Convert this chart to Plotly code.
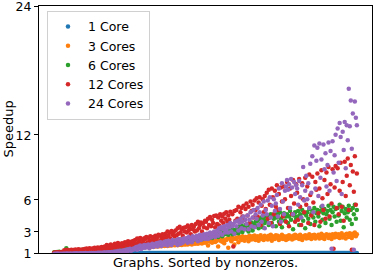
import plotly.graph_objects as go

series_names = ["1 Core", "3 Cores", "6 Cores", "12 Cores", "24 Cores"]
colors = ["#1f77b4", "#ff7f0e", "#2ca02c", "#d62728", "#9467bd"]
y_ticks = [1, 3, 6, 12, 24]
x_title = "Graphs. Sorted by nonzeros."
y_title = "Speedup"

core1 = [
    1,1,1,1,1,1,1,1,1,1, 1,1,1,1,1,1,1,1,1,1, 1,1,1,1,1,1,1,1,1,1,
    1,1,1,1,1,1,1,1,1,1, 1,1,1,1,1,1,1,1,1,1, 1,1,1,1,1,1,1,1,1,1,
    1,1,1,1,1,1,1,1,1,1, 1,1,1,1,1,1,1,1,1,1, 1,1,1,1,1,1,1,1,1,1,
    1,1,1,1,1,1,1,1,1,1, 1,1,1,1,1,1,1,1,1,1, 1,1,1,1,1,1,1,1,1,1,
    1,1,1,1,1,1,1,1,1,1, 1,1,1,1,1,1,1,1,1,1, 1,1,1,1,1,1,1,1,1,1,
    1,1,1,1,1,1,1,1,1,1, 1,1,1,1,1,1,1,1,1,1, 1,1,1,1,1,1,1,1,1,1,
    1,1,1,1,1,1,1,1,1,1, 1,1,1,1,1,1,1,1,1,1, 1,1,1,1,1,1,1,1,1,1,
    1,1,1,1,1,1,1,1,1,1, 1,1,1,1,1,1,1,1,1,1, 1,1,1,1,1,1,1,1,1,1,
    1,1,1,1,1,1,1,1,1,1, 1,1,1,1,1,1,1,1,1,1, 1,1,1,1,1,1,1,1,1,1,
    1,1,1,1,1,1,1,1,1,1, 1,1,1,1,1,1,1,1,1,1, 1,1,1,1,1,1,1,1,1,1,
]

core3 = [
    1.04,1.06,1.05,1.08,1.06,1.09,1.07,1.08,1.1,1.07,
    1.1,1.12,1.09,1.13,1.11,1.14,1.1,1.15,1.12,1.14,
    1.14,1.17,1.13,1.18,1.15,1.19,1.16,1.2,1.17,1.21,
    1.2,1.23,1.19,1.24,1.21,1.26,1.22,1.25,1.23,1.27,
    1.26,1.29,1.25,1.3,1.28,1.32,1.27,1.31,1.3,1.33,
    1.32,1.35,1.31,1.37,1.34,1.38,1.33,1.36,1.39,1.35,
    1.38,1.41,1.37,1.43,1.4,1.45,1.39,1.44,1.42,1.46,
    1.44,1.48,1.43,1.5,1.46,1.52,1.45,1.49,1.53,1.47,
    1.5,1.55,1.49,1.57,1.52,1.59,1.51,1.56,1.6,1.54,
    1.56,1.61,1.55,1.63,1.58,1.65,1.57,1.62,1.66,1.6,
    1.62,1.67,1.6,1.7,1.64,1.72,1.63,1.69,1.73,1.66,
    1.68,1.74,1.66,1.77,1.7,1.79,1.69,1.76,1.8,1.72,
    1.75,1.8,1.72,1.84,1.77,1.86,1.74,1.82,1.88,1.79,
    1.82,1.88,1.78,1.92,1.85,1.95,1.8,1.9,1.97,1.86,
    1.9,1.98,1.85,2.02,1.94,2.05,1.88,2.0,2.08,1.96,
    2.0,2.1,1.7,2.15,2.05,2.2,1.95,2.12,2.25,2.03,
    2.1,2.25,1.6,2.3,2.15,2.35,2.05,2.28,1.9,2.2,
    2.2,2.35,1.5,2.4,2.25,2.1,2.45,2.3,1.8,2.38,
    2.3,2.45,2.0,2.5,2.35,2.2,2.55,2.4,2.15,2.48,
    2.35,2.5,2.1,2.6,2.4,2.25,2.55,2.3,2.62,2.2,
    2.4,2.55,2.15,2.5,2.65,2.3,2.45,2.2,2.6,2.35,
    2.5,2.25,2.6,2.35,2.7,2.15,2.55,2.4,2.3,2.65,
    2.45,2.6,2.2,2.5,2.35,2.7,2.3,2.55,2.4,2.2,
    2.55,2.3,2.65,2.4,2.5,2.25,2.6,2.35,2.7,2.45,
    2.4,2.6,2.3,2.7,2.5,2.2,2.55,2.45,2.65,2.35,
    2.6,2.4,2.75,2.5,2.3,2.65,2.45,2.7,2.35,2.55,
    2.5,2.7,2.35,2.6,2.8,2.4,2.65,2.3,2.55,2.75,
    2.65,2.4,2.7,2.5,2.3,2.75,2.55,2.45,2.8,2.6,
    2.5,2.75,2.4,2.65,2.85,2.45,2.6,2.7,2.35,2.8,
    2.7,2.5,2.85,2.6,2.4,2.8,2.65,2.9,2.55,2.75,
]

core6 = [
    1.05,1.08,1.04,1.1,1.06,1.12,1.08,1.1,1.05,1.09,
    1.1,1.2,1.45,1.15,1.12,1.18,1.14,1.2,1.16,1.22,
    1.18,1.24,1.2,1.26,1.22,1.28,1.2,1.25,1.3,1.23,
    1.26,1.3,1.24,1.33,1.28,1.35,1.3,1.32,1.27,1.36,
    1.32,1.38,1.3,1.4,1.35,1.42,1.34,1.4,1.37,1.45,
    1.4,1.46,1.38,1.5,1.43,1.52,1.45,1.48,1.42,1.55,
    1.5,1.56,1.47,1.6,1.52,1.58,1.5,1.62,1.55,1.65,
    1.58,1.64,1.55,1.68,1.6,1.72,1.62,1.7,1.65,1.75,
    1.68,1.75,1.65,1.8,1.72,1.82,1.7,1.78,1.74,1.85,
    1.76,1.84,1.72,1.88,1.8,1.9,1.78,1.86,1.82,1.92,
    1.85,1.92,1.82,1.96,1.88,2.0,1.86,1.95,1.9,2.02,
    1.95,2.05,1.9,2.1,1.98,2.08,1.92,2.12,2.0,2.15,
    2.05,2.18,2.0,2.22,2.1,2.25,2.02,2.2,2.12,2.28,
    2.15,2.3,2.1,2.35,2.2,2.4,2.15,2.32,2.25,2.42,
    2.3,2.45,2.2,2.5,2.35,2.55,2.28,2.48,2.4,2.6,
    2.45,2.6,2.35,2.7,2.5,2.75,2.4,2.65,2.55,2.8,
    2.6,2.8,2.5,2.9,2.7,3.0,2.55,2.85,2.75,3.05,
    2.8,3.1,2.7,3.2,2.9,3.3,2.75,3.05,3.15,2.85,
    3.0,3.3,2.85,3.45,3.1,3.55,2.95,3.4,3.2,3.6,
    3.2,3.6,3.0,3.75,3.4,3.85,3.1,3.65,3.5,3.9,
    3.5,4.0,3.3,4.2,3.7,4.3,3.4,4.1,3.8,4.4,
    4.0,4.5,3.6,4.3,4.6,3.8,4.4,4.2,4.7,3.5,
    4.3,4.6,3.9,4.8,4.2,3.4,4.5,4.7,4.0,4.4,
    4.6,3.8,4.4,4.9,4.1,4.6,3.2,4.5,4.8,4.2,
    4.4,4.9,3.6,4.6,4.3,5.0,4.0,4.7,3.3,4.5,
    4.8,4.2,5.1,3.7,4.6,4.9,4.3,5.2,3.9,4.7,
    5.0,4.4,3.5,4.9,5.3,4.1,4.7,5.1,3.8,4.6,
    4.9,5.4,4.2,5.0,3.6,4.8,5.3,4.4,5.1,3.9,
    5.2,4.5,5.5,4.0,4.9,5.3,3.4,4.7,5.1,4.3,
    4.8,5.4,4.1,5.0,3.7,5.2,4.6,5.5,4.2,5.0,
]

core12 = [
    1.02,1.05,1.03,1.06,1.04,1.08,1.05,1.07,1.1,1.06,
    1.25,1.12,1.3,1.18,1.28,1.15,1.22,1.3,1.2,1.27,
    1.2,1.32,1.15,1.28,1.35,1.22,1.3,1.18,1.33,1.25,
    1.38,1.2,1.42,1.3,1.25,1.45,1.33,1.4,1.22,1.44,
    1.5,1.35,1.28,1.52,1.4,1.48,1.3,1.55,1.42,1.36,
    1.6,1.45,1.75,1.38,1.68,1.52,1.8,1.44,1.62,1.72,
    1.85,1.5,1.7,1.92,1.58,1.78,1.65,1.9,1.55,1.82,
    2.0,1.7,1.88,2.1,1.62,1.95,2.05,1.75,2.12,1.85,
    2.2,1.8,2.35,1.95,2.1,2.4,1.85,2.25,2.0,2.38,
    2.3,2.5,1.95,2.42,2.15,2.55,2.05,2.35,2.48,2.2,
    2.6,2.25,2.5,2.7,2.1,2.62,2.4,2.75,2.3,2.55,
    2.8,2.45,3.0,2.6,2.9,2.35,3.05,2.7,2.95,2.55,
    3.1,2.65,3.3,2.8,3.45,2.9,3.2,2.6,3.35,3.0,
    3.4,2.9,3.55,3.1,3.3,2.75,3.6,3.2,3.45,3.0,
    3.7,3.1,3.9,3.3,3.6,3.85,3.0,3.75,3.4,4.0,
    3.9,3.3,4.2,3.6,4.35,3.5,4.1,3.8,4.45,3.4,
    4.5,3.7,4.3,3.55,4.6,4.0,4.4,3.8,4.65,4.2,
    4.8,3.9,4.5,4.1,4.85,3.7,4.6,1.6,4.9,4.0,
    5.0,4.2,5.3,3.9,4.8,5.2,4.4,5.4,4.1,5.1,
    5.6,4.5,5.3,3.8,5.8,4.9,5.5,4.3,5.9,5.0,
    6.1,4.4,5.7,6.2,3.6,5.4,6.0,4.8,6.3,5.1,
    6.6,4.2,6.9,5.5,3.8,7.0,6.2,4.6,6.8,5.3,
    7.3,5.0,6.5,3.7,7.1,5.8,4.4,7.2,6.0,3.9,
    7.6,5.2,3.5,7.0,6.3,4.6,7.8,5.6,3.9,7.4,
    6.6,4.1,7.9,5.3,3.6,7.5,6.0,4.8,8.0,5.5,
    7.2,3.8,8.3,6.4,4.5,8.1,5.7,3.6,7.6,6.9,
    8.4,4.7,7.0,3.9,8.7,6.1,5.0,7.8,4.2,8.5,
    6.5,9.0,4.4,7.4,5.6,8.8,1.4,7.1,9.1,5.2,
    8.9,4.6,6.8,9.4,5.3,7.6,4.0,9.5,6.3,8.2,
    9.8,5.0,7.3,9.2,1.3,8.6,6.7,10.0,5.5,8.4,
]

core24 = [
    0.9,0.92,0.88,0.95,0.9,0.93,0.91,0.94,0.89,0.92,
    0.93,0.9,0.95,0.92,0.94,0.91,0.96,0.93,0.9,0.95,
    0.95,0.92,0.97,0.94,0.96,0.93,0.98,0.95,0.92,0.97,
    0.96,0.99,0.94,0.98,0.95,1.0,0.97,0.99,0.96,1.0,
    0.98,1.01,0.97,1.02,0.99,1.03,1.0,1.02,0.98,1.04,
    1.02,1.05,1.0,1.06,1.03,1.08,1.04,1.1,1.05,1.12,
    1.1,1.15,1.08,1.18,1.12,1.2,1.1,1.22,1.15,1.25,
    1.2,1.3,1.15,1.35,1.25,1.4,1.22,1.38,1.3,1.45,
    1.4,1.55,1.3,1.6,1.45,1.7,1.38,1.65,1.5,1.75,
    1.5,1.72,1.6,1.8,1.45,1.75,1.65,1.85,1.55,1.78,
    1.7,1.9,1.6,1.95,1.75,2.0,1.65,1.92,1.8,2.05,
    1.8,2.1,1.7,2.15,1.9,2.05,1.75,2.2,1.95,2.1,
    1.9,2.2,1.75,2.3,2.0,1.85,2.25,1.95,2.35,2.1,
    2.2,2.4,1.95,2.5,2.1,2.35,2.0,2.55,2.25,2.45,
    2.3,2.6,2.1,2.5,2.7,2.2,2.55,2.4,2.75,2.3,
    2.5,2.8,2.3,2.7,2.9,2.45,2.85,2.6,3.0,2.5,
    2.8,3.1,2.6,3.3,2.9,3.4,2.7,3.2,3.5,2.9,
    3.2,3.6,2.9,3.4,3.8,3.0,3.5,3.7,2.8,3.9,
    3.5,4.0,3.1,3.8,4.2,3.3,3.9,4.4,3.2,4.1,
    3.7,4.5,3.2,4.1,4.8,3.5,4.3,5.0,3.4,4.6,
    4.2,5.2,3.6,4.8,5.5,3.9,4.5,5.8,3.3,5.0,
    4.6,5.9,3.8,6.2,4.3,5.4,3.5,6.0,4.9,5.6,
    6.4,4.4,7.0,5.1,3.9,7.5,5.8,4.6,6.8,7.2,
    7.8,6.9,7.4,5.2,7.9,7.1,4.6,7.6,6.5,7.3,
    7.0,5.5,7.7,6.2,4.3,7.3,9.0,5.9,6.8,8.2,
    6.0,7.5,5.2,9.3,6.6,10.0,4.8,11.0,7.0,9.6,
    10.8,6.3,11.2,8.0,9.7,5.4,11.1,8.8,10.3,7.2,
    9.2,11.3,6.8,10.5,1.4,11.4,8.5,10.1,12.0,7.7,
    12.6,9.4,13.1,11.8,6.5,12.3,10.6,13.2,8.9,12.9,
    11.5,16.3,12.8,15.2,10.7,14.0,1.3,15.1,13.6,12.9,
]

graph_index = list(range(len(core1)))
all_series = [core1, core3, core6, core12, core24]

fig = go.Figure()
for name, color, vals in zip(series_names, colors, all_series):
    fig.add_trace(go.Scatter(
        x=graph_index, y=vals, mode="markers", name=name,
        marker=dict(color=color, size=4.5, line=dict(width=0)),
    ))

n = len(graph_index) - 1
fig.update_layout(
    width=374, height=270,
    margin=dict(l=39, r=2, t=6, b=17, autoexpand=False),
    paper_bgcolor="white", plot_bgcolor="white",
    font=dict(family="DejaVu Sans", size=13, color="black"),
    showlegend=True,
    legend=dict(
        x=0.024, y=0.98, xanchor="left", yanchor="top",
        bgcolor="rgba(255,255,255,0.8)", bordercolor="#d0d0d0", borderwidth=1,
        font=dict(size=12.5),
    ),
    xaxis=dict(
        range=[-0.05 * n, 1.05 * n], showticklabels=False, ticks="",
        showgrid=False, zeroline=False, showline=True, mirror=True,
        linecolor="black", linewidth=1, automargin=False,
    ),
    yaxis=dict(
        range=[1, 24], tickvals=y_ticks, ticktext=[str(t) for t in y_ticks],
        ticks="outside", ticklen=4, tickcolor="black",
        tickfont=dict(size=12.5), ticklabeloverflow="allow",
        ticklabelshift=1,
        showgrid=False, zeroline=False, showline=True, mirror=True,
        linecolor="black", linewidth=1, automargin=False,
    ),
    annotations=[
        dict(text=x_title, xref="paper", yref="paper", x=0.5, y=-9 / 247,
             xanchor="center", yanchor="middle", showarrow=False,
             font=dict(size=13)),
        dict(text=y_title, xref="paper", yref="paper", x=-31 / 333, y=0.5,
             xanchor="center", yanchor="middle", textangle=-90,
             showarrow=False, font=dict(size=13)),
    ],
)

fig.write_html(
    "out.html",
    config={"displayModeBar": False},
    post_script="document.body.style.margin='0';document.body.style.overflow='hidden';",
)
